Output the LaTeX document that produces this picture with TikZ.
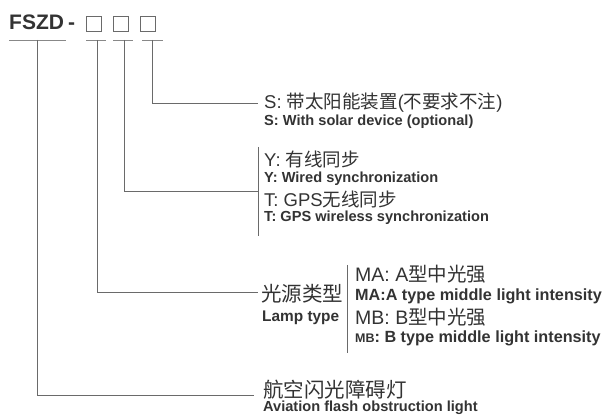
\documentclass[tikz,border=0pt]{standalone}
\usepackage{fontspec}
\setmainfont{Liberation Sans}
\newfontfamily\cjk{Noto Sans CJK SC}
\newcommand{\zh}[1]{{\cjk #1}}
\newcommand{\fsz}[1]{\fontsize{#1}{#1}\selectfont}
\definecolor{txt}{HTML}{333333}
\definecolor{ln}{HTML}{6A6A6A}
\begin{document}
\begin{tikzpicture}[x=1pt,y=-1pt,
  lbl/.style={anchor=base west, inner sep=0pt, text=txt},
  big/.style={lbl, font=\fsz{18.5}},
  huge/.style={lbl, font=\fsz{20.5}},
  en/.style={lbl, font=\fsz{14.6}\bfseries},
  enb/.style={lbl, font=\fsz{16.2}\bfseries},
  conn/.style={draw=ln, line width=0.9pt},
  uline/.style={draw=ln!80, line width=0.8pt},
  slot/.style={draw=ln, line width=1pt, minimum size=14.5pt, inner sep=0pt}]
\useasboundingbox (0,0) rectangle (613,419);

% title
\node[lbl, font=\fsz{21}\bfseries] (fszd) at (9,30) {FSZD};
\node[lbl, font=\fsz{21}\bfseries] (dash) at (68,30) {-};
\node[slot] (b1) at (94,24) {};
\node[slot] (b2) at (121,24) {};
\node[slot] (b3) at (148,24) {};

% underlines
\coordinate (u0l) at (9,40);   \coordinate (u0r) at (66,40);
\coordinate (u1l) at (86,40);  \coordinate (u1r) at (106,40);
\coordinate (u2l) at (113,40); \coordinate (u2r) at (133,40);
\coordinate (u3l) at (142,40); \coordinate (u3r) at (163,40);
\draw[uline] (u0l) -- (u0r);
\draw[uline] (u1l) -- (u1r);
\draw[uline] (u2l) -- (u2r);
\draw[uline] (u3l) -- (u3r);

% connector start points and ends
\coordinate (t0) at (37,40);  \coordinate (e0) at (254,395);
\coordinate (t1) at (97,40);  \coordinate (e1) at (258,292);
\coordinate (t2) at (124,40); \coordinate (e2) at (258,191);
\coordinate (t3) at (152,40); \coordinate (e3) at (258,103);
\draw[conn] (t0) |- (e0);
\draw[conn] (t1) |- (e1);
\draw[conn] (t2) |- (e2);
\draw[conn] (t3) |- (e3);

% brackets
\coordinate (v1t) at (258,147); \coordinate (v1b) at (258,236);
\coordinate (v2t) at (347,265); \coordinate (v2b) at (347,353);
\draw[conn] (v1t) -- (v1b);
\draw[conn] (v2t) -- (v2b);

% S
\node[big] (s1) at (264,109) {S: \zh{带太阳能装置}(\zh{不要求不注})};
\node[en]  (s2) at (264,126) {S: With solar device (optional)};
% Y / T
\node[big] (y1) at (264,167) {Y: \zh{有线同步}};
\node[en]  (y2) at (264,183) {Y: Wired synchronization};
\node[big] (g1) at (264,207) {T: GPS\zh{无线同步}};
\node[en]  (g2) at (264,222) {T: GPS wireless synchronization};
% lamp type
\node[huge] (l1) at (261,302) {\zh{光源类型}};
\node[lbl, font=\fsz{15.4}\bfseries] (l2) at (262,322) {Lamp type};
\node[lbl, font=\fsz{19.5}] (ma1) at (355,282) {MA: A\zh{型中光强}};
\node[enb] (ma2) at (355,301) {MA:A type middle light intensity};
\node[lbl, font=\fsz{19.5}] (mb1) at (355,325) {MB: B\zh{型中光强}};
\node[enb] (mb2) at (355,343) {{\fsz{12.5}MB}: B type middle light intensity};
% aviation
\node[huge] (a1) at (263,397) {\zh{航空闪光障碍灯}};
\node[en]   (a2) at (263,411) {Aviation flash obstruction light};
\end{tikzpicture}
\end{document}
